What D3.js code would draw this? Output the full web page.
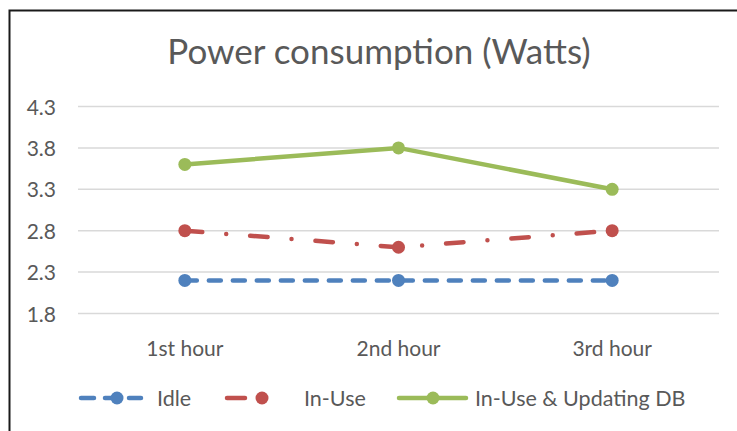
<!DOCTYPE html>
<html lang="en">
<head>
    <meta charset="UTF-8">
    <title>Power consumption</title>
    <script src="https://d3js.org/d3.v7.min.js"></script>
    <style>
        body { margin: 0; background: #fff; }
        text { font-family: Lato, "Open Sans", sans-serif; fill: #595959; }
        .tick text { font-size: 21px; }
        .title { font-size: 35px; }
        .legend text { font-size: 21.5px; }
    </style>
</head>
<body>
<div id="fig"></div>
<script>
    let categories = ["1st hour", "2nd hour", "3rd hour"]
    let idle = [2.2, 2.2, 2.2]
    let inUse = [2.8, 2.6, 2.8]
    let inUseDb = [3.6, 3.8, 3.3]
    let yTicks = [1.8, 2.3, 2.8, 3.3, 3.8, 4.3]

    let series = [
        {name: "Idle", values: idle, color: "#4F81BD", dash: "12,12"},
        {name: "In-Use", values: inUse, color: "#C0504D", dash: "17.5,24,0,24"},
        {name: "In-Use & Updating DB", values: inUseDb, color: "#9BBB59", dash: null}
    ]

    let w = 737, h = 431
    let svg = d3.select("#fig").append("svg").attr("width", w).attr("height", h)

    // chart frame
    svg.append("rect").attr("x", 9.5).attr("y", 10.5).attr("width", 740).attr("height", 440)
        .attr("fill", "#fff").attr("stroke", "#1a1a1a").attr("stroke-width", 2)

    svg.append("text").attr("class", "title")
        .attr("x", 379).attr("y", 64).attr("text-anchor", "middle")
        .text("Power consumption (Watts)")

    let xScale = d3.scaleBand().domain(categories).range([78, 719])
    let yScale = d3.scaleLinear().domain([1.8, 4.3]).range([313.5, 106.5])

    // grid
    svg.selectAll(".grid").data(yTicks).enter().append("line")
        .attr("x1", 78).attr("x2", 719)
        .attr("y1", d => yScale(d)).attr("y2", d => yScale(d))
        .attr("stroke", "#d9d9d9").attr("stroke-width", 1.5)

    let yAxis = d3.axisLeft(yScale).tickValues(yTicks).tickFormat(d3.format(".1f")).tickSize(0).tickPadding(22)
    let gy = svg.append("g").attr("transform", "translate(78,0)").call(yAxis)
    gy.select(".domain").remove()
    gy.selectAll("text").attr("dy", "0.36em")

    let xAxis = d3.axisBottom(xScale).tickSize(0).tickPadding(28)
    let gx = svg.append("g").attr("transform", "translate(0,313.5)").call(xAxis)
    gx.select(".domain").remove()

    let cx = (d, i) => xScale(categories[i]) + xScale.bandwidth() / 2
    let line = d3.line().x(cx).y(d => yScale(d))

    series.forEach(s => {
        svg.append("path").datum(s.values)
            .attr("d", line)
            .attr("fill", "none")
            .attr("stroke", s.color)
            .attr("stroke-width", 4.5)
            .attr("stroke-linecap", "round")
            .attr("stroke-dasharray", s.dash)
        svg.selectAll(null).data(s.values).enter().append("circle")
            .attr("cx", cx)
            .attr("cy", d => yScale(d))
            .attr("r", 6.5)
            .attr("fill", s.color)
    })

    // legend
    let legendItems = [
        {x0: 81, x1: 141, mx: 117, tx: 157, dash: "13,11"},
        {x0: 227, x1: 262, mx: 262, tx: 304, dash: "18,40"},
        {x0: 399, x1: 466, mx: 433, tx: 475, dash: null}
    ]
    let ly = 398
    let lg = svg.append("g").attr("class", "legend")
    series.forEach((s, i) => {
        let it = legendItems[i]
        lg.append("line").attr("x1", it.x0).attr("x2", it.x1).attr("y1", ly).attr("y2", ly)
            .attr("stroke", s.color).attr("stroke-width", 4.5).attr("stroke-linecap", "round")
            .attr("stroke-dasharray", it.dash)
        lg.append("circle").attr("cx", it.mx).attr("cy", ly).attr("r", 6.5).attr("fill", s.color)
        lg.append("text").attr("x", it.tx).attr("y", ly).attr("dy", "0.36em").text(s.name)
    })
</script>
</body>
</html>
